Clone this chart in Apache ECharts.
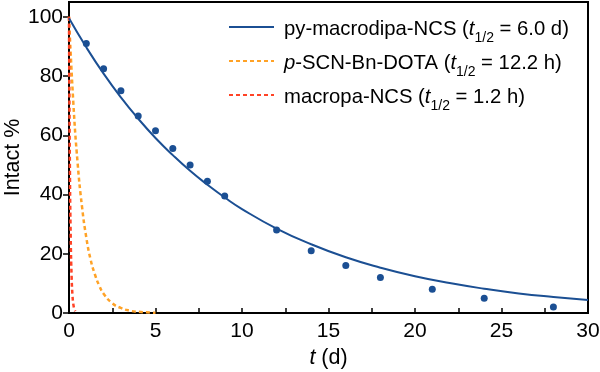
<!DOCTYPE html>
<html lang="en">
<head>
    <meta charset="UTF-8">
    <title>Intact %</title>
    <script src="https://cdn.jsdelivr.net/npm/echarts@6/dist/echarts.min.js"></script>
    <style>
        html, body { margin: 0; padding: 0; background: #fff; }
        #main { width: 600px; height: 372px; }
    </style>
</head>
<body>
<div id="main"></div>

<script>
    // measured points, py-macrodipa-NCS
    var measT = [1, 2, 3, 4, 5, 6, 7, 8, 9, 12, 14, 16, 18, 21, 24, 28];
    var measV = [91, 82.5, 75, 66.5, 61.5, 55.5, 50, 44.5, 39.5, 28, 21, 16, 12, 8, 5, 2];

    // fit curves
    var pyT = [0, 1, 2, 3, 4, 5, 6, 7, 8, 9, 10, 12, 14, 16, 18, 20, 22, 24, 26, 28, 30];
    var pyV = [99.5, 89.7, 80.8, 72.8, 65.6, 59.1, 53.3, 48.0, 43.3, 39.0, 35.1, 28.5, 23.2, 18.8, 15.3, 12.4, 10.1, 8.2, 6.6, 5.4, 4.4];

    var dotaT = [0, 0.25, 0.5, 0.75, 1, 1.25, 1.5, 1.75, 2, 2.5, 3, 3.5, 4, 5];
    var dotaV = [100, 71, 50.5, 36, 25.5, 18, 13, 9.2, 6.5, 3.3, 1.7, 0.8, 0.4, 0.1];

    var macT = [0, 0.05, 0.1, 0.15, 0.2, 0.25, 0.3, 0.36];
    var macV = [100, 50, 25, 12.5, 6, 3, 1.5, 0.6];

    var xTicks = [0, 5, 10, 15, 20, 25, 30];
    var yTicks = [0, 20, 40, 60, 80, 100];

    function pairs(xs, ys) {
        return xs.map(function (x, i) { return [x, ys[i]]; });
    }

    var font = 'Liberation Sans';
    var names = ['py-macrodipa-NCS', 'p-SCN-Bn-DOTA', 'macropa-NCS'];
    var legendText = {
        'py-macrodipa-NCS': '{g| }{n|py-macrodipa-NCS (}{i|t}{s|1/2}{n| = 6.0 d)}',
        'p-SCN-Bn-DOTA': '{g| }{i|p}{n|-SCN-Bn-DOTA (}{i|t}{s|1/2}{n| = 12.2 h)}',
        'macropa-NCS': '{g| }{n|macropa-NCS (}{i|t}{s|1/2}{n| = 1.2 h)}'
    };

    var myChart = echarts.init(document.getElementById('main'));

    var option = {
        animation: false,
        textStyle: { fontFamily: font },
        grid: {
            left: 69, right: 12, top: 2, bottom: 59,
            outerBoundsMode: 'none',
            containLabel: false,
            show: true, borderColor: '#000', borderWidth: 2
        },
        legend: {
            data: names,
            orient: 'vertical',
            left: 223,
            top: 12,
            itemWidth: 45,
            itemHeight: 14,
            itemGap: 6,
            itemStyle: { color: 'rgba(0,0,0,0)', borderWidth: 0, opacity: 0 },
            formatter: function (name) { return legendText[name]; },
            textStyle: {
                rich: {
                    g: { width: 5, fontSize: 20, lineHeight: 24 },
                    n: { fontFamily: font, fontSize: 20.3, color: '#000', lineHeight: 24, verticalAlign: 'bottom' },
                    i: { fontFamily: font, fontSize: 20.3, color: '#000', fontStyle: 'italic', lineHeight: 24, verticalAlign: 'bottom' },
                    s: { fontFamily: font, fontSize: 14, color: '#000', lineHeight: 24, verticalAlign: 'bottom', padding: [0, 0, -6, 0] }
                }
            }
        },
        xAxis: {
            type: 'value',
            min: 0, max: 30, interval: 5,
            name: '{i|t} (d)',
            nameLocation: 'middle',
            nameGap: 32,
            nameTextStyle: {
                fontSize: 21.5, color: '#000',
                rich: { i: { fontSize: 21.5, fontStyle: 'italic', color: '#000', fontFamily: font } }
            },
            axisLine: { lineStyle: { color: '#000', width: 2 } },
            axisTick: { inside: true, length: 5, lineStyle: { color: '#000', width: 1.5 } },
            minorTick: { show: true, splitNumber: 2, length: 5, lineStyle: { color: '#000', width: 1.5 } },
            axisLabel: {
                fontSize: 21, color: '#000', margin: 8,
                formatter: function (v) { return xTicks.indexOf(v) >= 0 ? String(v) : ''; }
            },
            splitLine: { show: false }
        },
        yAxis: {
            type: 'value',
            min: 0, max: 105, interval: 20,
            name: 'Intact %',
            nameLocation: 'middle',
            nameGap: 45,
            nameMoveOverlap: false,
            nameTextStyle: { fontSize: 21.5, color: '#000' },
            axisLine: { lineStyle: { color: '#000', width: 2 } },
            axisTick: { inside: false, length: 6, lineStyle: { color: '#000', width: 1.5 } },
            axisLabel: {
                fontSize: 21, color: '#000', margin: 6, showMaxLabel: false,
                formatter: function (v) { return yTicks.indexOf(v) >= 0 ? String(v) : ''; }
            },
            splitLine: { show: false }
        },
        series: [
            {
                name: 'py-macrodipa-NCS',
                type: 'line',
                smooth: true,
                symbol: 'none',
                data: pairs(pyT, pyV),
                lineStyle: { color: '#1b4f93', width: 2 },
                itemStyle: { color: '#1b4f93' },
                z: 3
            },
            {
                name: 'p-SCN-Bn-DOTA',
                type: 'line',
                smooth: true,
                symbol: 'none',
                data: pairs(dotaT, dotaV),
                lineStyle: { color: '#ffa226', width: 2.5, type: [4, 3] },
                itemStyle: { color: '#ffa226' },
                z: 2
            },
            {
                name: 'macropa-NCS',
                type: 'line',
                smooth: true,
                symbol: 'none',
                data: pairs(macT, macV),
                lineStyle: { color: '#ff4326', width: 2.5, type: [4, 3] },
                itemStyle: { color: '#ff4326' },
                z: 2
            },
            {
                name: 'data',
                type: 'scatter',
                symbolSize: 7,
                data: pairs(measT, measV),
                itemStyle: { color: '#1b4f93', opacity: 1 },
                z: 4
            }
        ]
    };

    myChart.setOption(option, true);
</script>
</body>
</html>
